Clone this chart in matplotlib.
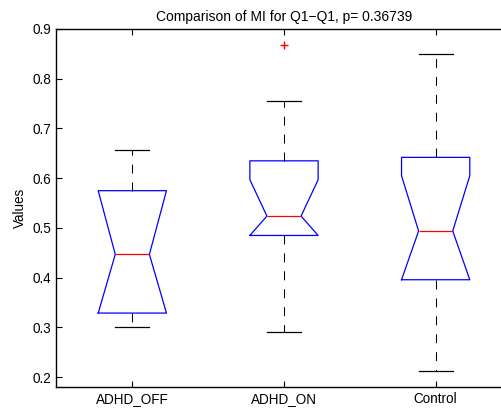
import matplotlib
matplotlib.use('Agg')
import matplotlib.pyplot as plt

plt.rcParams['font.family'] = ['Liberation Sans', 'DejaVu Sans']

groups = ['ADHD_OFF', 'ADHD_ON', 'Control']
medians = [0.447, 0.524, 0.494]
q1 = [0.329, 0.485, 0.396]
q3 = [0.575, 0.635, 0.642]
whis_lo = [0.302, 0.291, 0.213]
whis_hi = [0.657, 0.755, 0.850]
notch_lo = [0.329, 0.485, 0.396]
notch_hi = [0.575, 0.597, 0.605]
outliers = [[], [0.868], []]
yticks = [0.2, 0.3, 0.4, 0.5, 0.6, 0.7, 0.8, 0.9]

stats = []
for i in range(len(groups)):
    stats.append({'label': groups[i], 'med': medians[i], 'q1': q1[i], 'q3': q3[i],
                  'whislo': whis_lo[i], 'whishi': whis_hi[i],
                  'cilo': notch_lo[i], 'cihi': notch_hi[i], 'fliers': outliers[i]})

fig = plt.figure(figsize=(5.02, 4.12), dpi=100)
# axes run past the right edge of the figure, as in the original
ax = fig.add_axes([56.5 / 502, 25.3 / 412, 455 / 502, 357.7 / 412])

ax.bxp(stats, positions=[1, 2, 3], widths=0.45, capwidths=0.225, shownotches=True,
       boxprops=dict(color='blue', linewidth=0.9),
       medianprops=dict(color='red', linewidth=0.9),
       whiskerprops=dict(color='black', linewidth=0.75, linestyle=(0, (8.6, 8.6))),
       capprops=dict(color='black', linewidth=0.9),
       flierprops=dict(marker='+', markeredgecolor='red', markersize=6, linestyle='none'))

ax.set_xlim(0.5, 3.5)
ax.set_ylim(0.181, 0.9)
ax.set_yticks(yticks)
ax.set_yticklabels([f'{t:.1f}' for t in yticks])
ax.set_xticks([1, 2, 3])
ax.set_xticklabels(groups)
ax.tick_params(direction='in', top=True, right=False, length=4, width=0.8,
               labelsize=9.75, pad=4)
ax.spines['right'].set_visible(False)
for s in ax.spines.values():
    s.set_linewidth(1.0)

ax.set_ylabel('Values', fontsize=9.75)
ax.set_title('Comparison of MI for Q1\u2212Q1, p= 0.36739', fontsize=10, pad=6)

fig.savefig('out.png', dpi=100)
